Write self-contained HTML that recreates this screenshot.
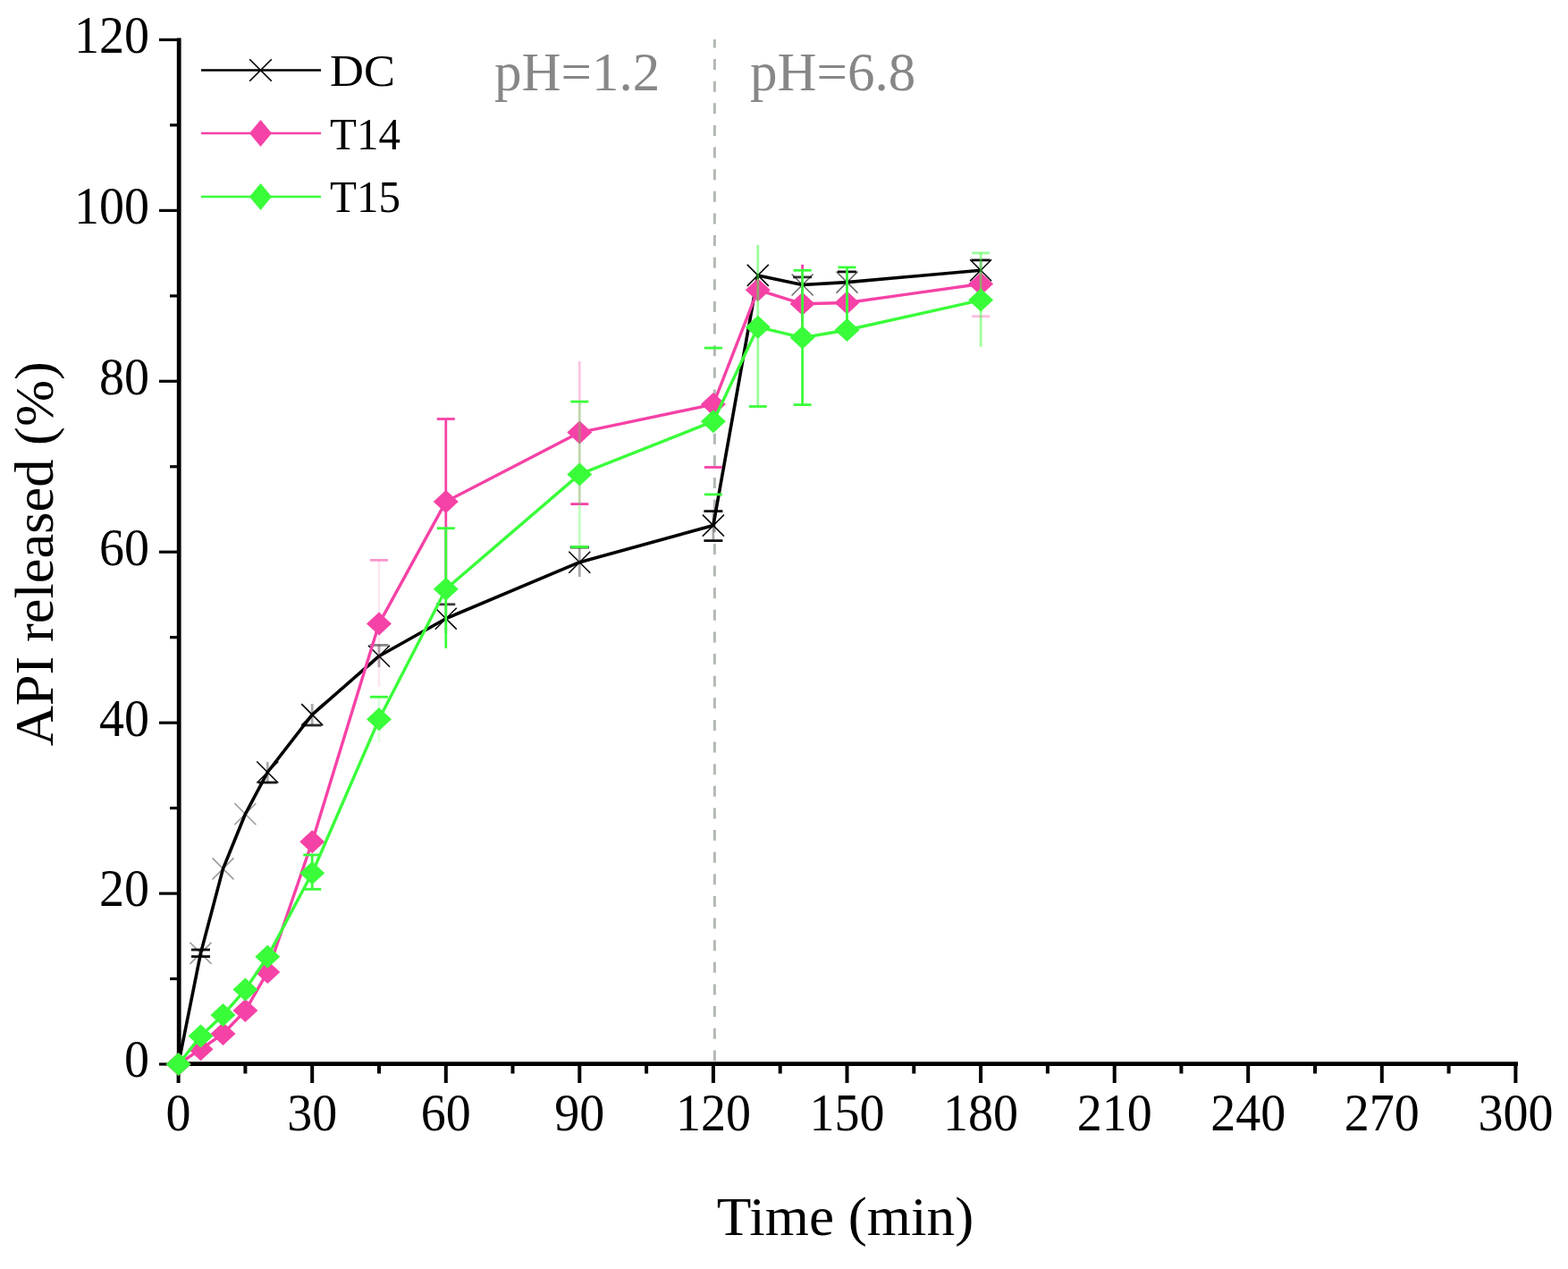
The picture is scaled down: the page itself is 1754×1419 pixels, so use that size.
<!DOCTYPE html><html><head><meta charset="utf-8"><title>API release</title>
<style>html,body{margin:0;padding:0;background:#fff;}svg{display:block;}</style></head><body>
<svg width="1754" height="1419" viewBox="0 0 1754 1419">
<rect width="1754" height="1419" fill="#fff"/>
<g stroke="#000" fill="none">
<line x1="200.2" y1="42.5" x2="200.2" y2="1192" stroke-width="4.8"/>
<line x1="198" y1="1189.7" x2="1698" y2="1189.7" stroke-width="4.8"/>
<line x1="178" y1="1190.0" x2="200" y2="1190.0" stroke-width="3.2"/>
<line x1="178" y1="999.1" x2="200" y2="999.1" stroke-width="3.2"/>
<line x1="178" y1="808.2" x2="200" y2="808.2" stroke-width="3.2"/>
<line x1="178" y1="617.2" x2="200" y2="617.2" stroke-width="3.2"/>
<line x1="178" y1="426.3" x2="200" y2="426.3" stroke-width="3.2"/>
<line x1="178" y1="235.4" x2="200" y2="235.4" stroke-width="3.2"/>
<line x1="178" y1="44.5" x2="200" y2="44.5" stroke-width="3.2"/>
<line x1="190" y1="1094.5" x2="200" y2="1094.5" stroke-width="3.2"/>
<line x1="190" y1="903.6" x2="200" y2="903.6" stroke-width="3.2"/>
<line x1="190" y1="712.7" x2="200" y2="712.7" stroke-width="3.2"/>
<line x1="190" y1="521.8" x2="200" y2="521.8" stroke-width="3.2"/>
<line x1="190" y1="330.9" x2="200" y2="330.9" stroke-width="3.2"/>
<line x1="190" y1="139.9" x2="200" y2="139.9" stroke-width="3.2"/>
<line x1="199.6" y1="1190" x2="199.6" y2="1211" stroke-width="4"/>
<line x1="349.2" y1="1190" x2="349.2" y2="1211" stroke-width="4"/>
<line x1="498.8" y1="1190" x2="498.8" y2="1211" stroke-width="4"/>
<line x1="648.3" y1="1190" x2="648.3" y2="1211" stroke-width="4"/>
<line x1="797.9" y1="1190" x2="797.9" y2="1211" stroke-width="4"/>
<line x1="947.5" y1="1190" x2="947.5" y2="1211" stroke-width="4"/>
<line x1="1097.1" y1="1190" x2="1097.1" y2="1211" stroke-width="4"/>
<line x1="1246.7" y1="1190" x2="1246.7" y2="1211" stroke-width="4"/>
<line x1="1396.2" y1="1190" x2="1396.2" y2="1211" stroke-width="4"/>
<line x1="1545.8" y1="1190" x2="1545.8" y2="1211" stroke-width="4"/>
<line x1="1695.4" y1="1190" x2="1695.4" y2="1211" stroke-width="4"/>
<line x1="274.4" y1="1190" x2="274.4" y2="1200.5" stroke-width="4"/>
<line x1="424.0" y1="1190" x2="424.0" y2="1200.5" stroke-width="4"/>
<line x1="573.5" y1="1190" x2="573.5" y2="1200.5" stroke-width="4"/>
<line x1="723.1" y1="1190" x2="723.1" y2="1200.5" stroke-width="4"/>
<line x1="872.7" y1="1190" x2="872.7" y2="1200.5" stroke-width="4"/>
<line x1="1022.3" y1="1190" x2="1022.3" y2="1200.5" stroke-width="4"/>
<line x1="1171.9" y1="1190" x2="1171.9" y2="1200.5" stroke-width="4"/>
<line x1="1321.4" y1="1190" x2="1321.4" y2="1200.5" stroke-width="4"/>
<line x1="1471.0" y1="1190" x2="1471.0" y2="1200.5" stroke-width="4"/>
<line x1="1620.6" y1="1190" x2="1620.6" y2="1200.5" stroke-width="4"/>
</g>
<line x1="799.4" y1="44" x2="799.4" y2="1187" stroke="#b2b9b2" stroke-width="3" stroke-dasharray="12 12.63" stroke-dashoffset="2.6"/>
<line x1="224.5" y1="1062.0" x2="224.5" y2="1069.6" stroke="#111" stroke-width="2.8" opacity="0.35"/><line x1="214.0" y1="1062.0" x2="235.0" y2="1062.0" stroke="#111" stroke-width="2.8" opacity="1"/><line x1="214.0" y1="1069.6" x2="235.0" y2="1069.6" stroke="#111" stroke-width="2.8" opacity="1"/>
<line x1="299.3" y1="852.0" x2="299.3" y2="875.0" stroke="#111" stroke-width="2.8" opacity="0.35"/><line x1="288.8" y1="875.0" x2="309.8" y2="875.0" stroke="#111" stroke-width="2.8" opacity="1"/>
<line x1="349.2" y1="787.0" x2="349.2" y2="811.0" stroke="#111" stroke-width="2.8" opacity="0.35"/><line x1="338.7" y1="811.0" x2="359.7" y2="811.0" stroke="#111" stroke-width="2.8" opacity="0.9"/>
<line x1="424.0" y1="721.4" x2="424.0" y2="746.0" stroke="#111" stroke-width="2.8" opacity="0.35"/><line x1="413.5" y1="721.4" x2="434.5" y2="721.4" stroke="#111" stroke-width="2.8" opacity="0.5"/>
<line x1="498.8" y1="675.8" x2="498.8" y2="708.0" stroke="#111" stroke-width="2.8" opacity="0.35"/><line x1="488.3" y1="675.8" x2="509.3" y2="675.8" stroke="#111" stroke-width="2.8" opacity="0.8"/>
<line x1="648.3" y1="612.0" x2="648.3" y2="645.0" stroke="#111" stroke-width="2.8" opacity="0.35"/><line x1="637.8" y1="612.0" x2="658.8" y2="612.0" stroke="#111" stroke-width="2.8" opacity="1"/>
<line x1="797.9" y1="571.6" x2="797.9" y2="604.6" stroke="#111" stroke-width="2.8" opacity="0.35"/><line x1="787.4" y1="571.6" x2="808.4" y2="571.6" stroke="#111" stroke-width="2.8" opacity="1"/><line x1="787.4" y1="604.6" x2="808.4" y2="604.6" stroke="#111" stroke-width="2.8" opacity="1"/>
<line x1="897.6" y1="309.9" x2="897.6" y2="327.7" stroke="#111" stroke-width="2.8" opacity="0.35"/><line x1="887.1" y1="309.9" x2="908.1" y2="309.9" stroke="#111" stroke-width="2.8" opacity="0.85"/>
<line x1="947.5" y1="303.9" x2="947.5" y2="327.9" stroke="#111" stroke-width="2.8" opacity="0.35"/><line x1="937.0" y1="303.9" x2="958.0" y2="303.9" stroke="#111" stroke-width="2.8" opacity="1"/>
<line x1="1097.1" y1="290.9" x2="1097.1" y2="312.9" stroke="#111" stroke-width="2.8" opacity="0.35"/><line x1="1086.6" y1="290.9" x2="1107.6" y2="290.9" stroke="#111" stroke-width="2.8" opacity="1"/>
<polyline points="199.6,1190.0 224.5,1065.9 249.5,971.4 274.4,910.3 299.3,863.5 349.2,799.1 424.0,733.7 498.8,691.7 648.3,628.7 797.9,587.6 847.8,307.9 897.6,318.5 947.5,315.6 1097.1,302.2" fill="none" stroke="#000" stroke-width="3.6" stroke-linejoin="round"/>
<path d="M212.5,1053.9L236.5,1077.9M212.5,1077.9L236.5,1053.9" stroke="#000" stroke-width="1.5" fill="none" opacity="0.4"/>
<path d="M237.5,959.4L261.5,983.4M237.5,983.4L261.5,959.4" stroke="#000" stroke-width="1.5" fill="none" opacity="0.4"/>
<path d="M262.4,898.3L286.4,922.3M262.4,922.3L286.4,898.3" stroke="#000" stroke-width="1.5" fill="none" opacity="0.4"/>
<path d="M287.3,851.5L311.3,875.5M287.3,875.5L311.3,851.5" stroke="#000" stroke-width="1.5" fill="none" opacity="1.0"/>
<path d="M337.2,787.1L361.2,811.1M337.2,811.1L361.2,787.1" stroke="#000" stroke-width="1.5" fill="none" opacity="1.0"/>
<path d="M412.0,721.7L436.0,745.7M412.0,745.7L436.0,721.7" stroke="#000" stroke-width="1.5" fill="none" opacity="1.0"/>
<path d="M486.8,679.7L510.8,703.7M486.8,703.7L510.8,679.7" stroke="#000" stroke-width="1.5" fill="none" opacity="1.0"/>
<path d="M636.3,616.7L660.3,640.7M636.3,640.7L660.3,616.7" stroke="#000" stroke-width="1.5" fill="none" opacity="1.0"/>
<path d="M785.9,575.6L809.9,599.6M785.9,599.6L809.9,575.6" stroke="#000" stroke-width="1.5" fill="none" opacity="1.0"/>
<path d="M835.8,295.9L859.8,319.9M835.8,319.9L859.8,295.9" stroke="#000" stroke-width="1.5" fill="none" opacity="1.0"/>
<path d="M885.6,306.5L909.6,330.5M885.6,330.5L909.6,306.5" stroke="#000" stroke-width="1.5" fill="none" opacity="0.6"/>
<path d="M935.5,303.6L959.5,327.6M935.5,327.6L959.5,303.6" stroke="#000" stroke-width="1.5" fill="none" opacity="0.6"/>
<path d="M1085.1,290.2L1109.1,314.2M1085.1,314.2L1109.1,290.2" stroke="#000" stroke-width="1.5" fill="none" opacity="1.0"/>
<line x1="424.0" y1="626.4" x2="424.0" y2="768.0" stroke="#F542A6" stroke-width="2.8" opacity="0.12"/><line x1="414.0" y1="626.4" x2="434.0" y2="626.4" stroke="#F542A6" stroke-width="2.8" opacity="0.55"/>
<line x1="498.8" y1="468.5" x2="498.8" y2="654.0" stroke="#F542A6" stroke-width="2.8" opacity="1"/><line x1="488.8" y1="468.5" x2="508.8" y2="468.5" stroke="#F542A6" stroke-width="2.8" opacity="1"/>
<line x1="648.3" y1="404.0" x2="648.3" y2="563.6" stroke="#F542A6" stroke-width="2.8" opacity="0.3"/><line x1="638.3" y1="563.6" x2="658.3" y2="563.6" stroke="#F542A6" stroke-width="2.8" opacity="1"/>
<line x1="787.9" y1="522.5" x2="807.9" y2="522.5" stroke="#F542A6" stroke-width="2.8" opacity="1"/>
<line x1="897.6" y1="295.9" x2="897.6" y2="383.7" stroke="#F542A6" stroke-width="2.8" opacity="1"/>
<line x1="1087.1" y1="353.8" x2="1107.1" y2="353.8" stroke="#F542A6" stroke-width="2.8" opacity="0.35"/>
<polyline points="199.6,1190.0 224.5,1173.2 249.5,1156.0 274.4,1130.1 299.3,1086.9 349.2,941.3 424.0,697.4 498.8,560.9 648.3,483.6 797.9,452.1 847.8,324.2 897.6,339.8 947.5,338.5 1097.1,317.5" fill="none" stroke="#F542A6" stroke-width="3.4" stroke-linejoin="round"/>
<polygon points="199.6,1177.0 213.6,1190.0 199.6,1203.0 185.6,1190.0" fill="#F542A6"/>
<polygon points="224.5,1160.2 238.5,1173.2 224.5,1186.2 210.5,1173.2" fill="#F542A6"/>
<polygon points="249.5,1143.0 263.5,1156.0 249.5,1169.0 235.5,1156.0" fill="#F542A6"/>
<polygon points="274.4,1117.1 288.4,1130.1 274.4,1143.1 260.4,1130.1" fill="#F542A6"/>
<polygon points="299.3,1073.9 313.3,1086.9 299.3,1099.9 285.3,1086.9" fill="#F542A6"/>
<polygon points="349.2,928.3 363.2,941.3 349.2,954.3 335.2,941.3" fill="#F542A6"/>
<polygon points="424.0,684.4 438.0,697.4 424.0,710.4 410.0,697.4" fill="#F542A6"/>
<polygon points="498.8,547.9 512.8,560.9 498.8,573.9 484.8,560.9" fill="#F542A6"/>
<polygon points="648.3,470.6 662.3,483.6 648.3,496.6 634.3,483.6" fill="#F542A6"/>
<polygon points="797.9,439.1 811.9,452.1 797.9,465.1 783.9,452.1" fill="#F542A6"/>
<polygon points="847.8,311.2 861.8,324.2 847.8,337.2 833.8,324.2" fill="#F542A6"/>
<polygon points="897.6,326.8 911.6,339.8 897.6,352.8 883.6,339.8" fill="#F542A6"/>
<polygon points="947.5,325.5 961.5,338.5 947.5,351.5 933.5,338.5" fill="#F542A6"/>
<polygon points="1097.1,304.5 1111.1,317.5 1097.1,330.5 1083.1,317.5" fill="#F542A6"/>
<line x1="349.2" y1="956.0" x2="349.2" y2="994.3" stroke="#3AFD3A" stroke-width="2.8" opacity="1"/><line x1="339.2" y1="956.0" x2="359.2" y2="956.0" stroke="#3AFD3A" stroke-width="2.8" opacity="1"/><line x1="339.2" y1="994.3" x2="359.2" y2="994.3" stroke="#3AFD3A" stroke-width="2.8" opacity="1"/>
<line x1="424.0" y1="779.3" x2="424.0" y2="830.0" stroke="#3AFD3A" stroke-width="2.8" opacity="0.15"/><line x1="414.0" y1="779.3" x2="434.0" y2="779.3" stroke="#3AFD3A" stroke-width="2.8" opacity="1"/>
<line x1="498.8" y1="590.7" x2="498.8" y2="725.0" stroke="#3AFD3A" stroke-width="2.8" opacity="1"/><line x1="488.8" y1="590.7" x2="508.8" y2="590.7" stroke="#3AFD3A" stroke-width="2.8" opacity="1"/>
<line x1="648.3" y1="449.1" x2="648.3" y2="611.5" stroke="#3AFD3A" stroke-width="2.8" opacity="0.3"/><line x1="638.3" y1="449.1" x2="658.3" y2="449.1" stroke="#3AFD3A" stroke-width="2.8" opacity="1"/><line x1="638.3" y1="611.5" x2="658.3" y2="611.5" stroke="#3AFD3A" stroke-width="2.8" opacity="1"/>
<line x1="787.9" y1="389.1" x2="807.9" y2="389.1" stroke="#3AFD3A" stroke-width="2.8" opacity="1"/><line x1="787.9" y1="552.9" x2="807.9" y2="552.9" stroke="#3AFD3A" stroke-width="2.8" opacity="1"/>
<line x1="847.8" y1="273.9" x2="847.8" y2="454.5" stroke="#3AFD3A" stroke-width="2.8" opacity="0.5"/><line x1="837.8" y1="454.5" x2="857.8" y2="454.5" stroke="#3AFD3A" stroke-width="2.8" opacity="1"/>
<line x1="897.6" y1="302.3" x2="897.6" y2="452.6" stroke="#3AFD3A" stroke-width="2.8" opacity="1"/><line x1="887.6" y1="302.3" x2="907.6" y2="302.3" stroke="#3AFD3A" stroke-width="2.8" opacity="1"/><line x1="887.6" y1="452.6" x2="907.6" y2="452.6" stroke="#3AFD3A" stroke-width="2.8" opacity="1"/>
<line x1="947.5" y1="298.9" x2="947.5" y2="368.7" stroke="#3AFD3A" stroke-width="2.8" opacity="1"/><line x1="937.5" y1="298.9" x2="957.5" y2="298.9" stroke="#3AFD3A" stroke-width="2.8" opacity="1"/>
<line x1="1097.1" y1="282.9" x2="1097.1" y2="387.7" stroke="#3AFD3A" stroke-width="2.8" opacity="0.5"/><line x1="1087.1" y1="282.9" x2="1107.1" y2="282.9" stroke="#3AFD3A" stroke-width="2.8" opacity="0.5"/>
<polyline points="199.6,1190.0 224.5,1158.5 249.5,1135.0 274.4,1106.6 299.3,1069.7 349.2,976.2 424.0,804.3 498.8,658.7 648.3,530.4 797.9,471.2 847.8,365.7 897.6,377.6 947.5,369.0 1097.1,335.6" fill="none" stroke="#3AFD3A" stroke-width="3.4" stroke-linejoin="round"/>
<polygon points="199.6,1177.0 213.6,1190.0 199.6,1203.0 185.6,1190.0" fill="#3AFD3A"/>
<polygon points="224.5,1145.5 238.5,1158.5 224.5,1171.5 210.5,1158.5" fill="#3AFD3A"/>
<polygon points="249.5,1122.0 263.5,1135.0 249.5,1148.0 235.5,1135.0" fill="#3AFD3A"/>
<polygon points="274.4,1093.6 288.4,1106.6 274.4,1119.6 260.4,1106.6" fill="#3AFD3A"/>
<polygon points="299.3,1056.7 313.3,1069.7 299.3,1082.7 285.3,1069.7" fill="#3AFD3A"/>
<polygon points="349.2,963.2 363.2,976.2 349.2,989.2 335.2,976.2" fill="#3AFD3A"/>
<polygon points="424.0,791.3 438.0,804.3 424.0,817.3 410.0,804.3" fill="#3AFD3A"/>
<polygon points="498.8,645.7 512.8,658.7 498.8,671.7 484.8,658.7" fill="#3AFD3A"/>
<polygon points="648.3,517.4 662.3,530.4 648.3,543.4 634.3,530.4" fill="#3AFD3A"/>
<polygon points="797.9,458.2 811.9,471.2 797.9,484.2 783.9,471.2" fill="#3AFD3A"/>
<polygon points="847.8,352.7 861.8,365.7 847.8,378.7 833.8,365.7" fill="#3AFD3A"/>
<polygon points="897.6,364.6 911.6,377.6 897.6,390.6 883.6,377.6" fill="#3AFD3A"/>
<polygon points="947.5,356.0 961.5,369.0 947.5,382.0 933.5,369.0" fill="#3AFD3A"/>
<polygon points="1097.1,322.6 1111.1,335.6 1097.1,348.6 1083.1,335.6" fill="#3AFD3A"/>
<g font-family="'Liberation Serif', 'DejaVu Serif', serif" font-size="59" fill="#000">
<text transform="translate(167,1204.3) scale(0.95,1)" text-anchor="end">0</text>
<text transform="translate(167,1013.4) scale(0.95,1)" text-anchor="end">20</text>
<text transform="translate(167,822.5) scale(0.95,1)" text-anchor="end">40</text>
<text transform="translate(167,631.5) scale(0.95,1)" text-anchor="end">60</text>
<text transform="translate(167,440.6) scale(0.95,1)" text-anchor="end">80</text>
<text transform="translate(167,249.7) scale(0.95,1)" text-anchor="end">100</text>
<text transform="translate(167,58.8) scale(0.95,1)" text-anchor="end">120</text>
<text transform="translate(199.6,1264.3) scale(0.95,1)" text-anchor="middle">0</text>
<text transform="translate(349.2,1264.3) scale(0.95,1)" text-anchor="middle">30</text>
<text transform="translate(498.8,1264.3) scale(0.95,1)" text-anchor="middle">60</text>
<text transform="translate(648.3,1264.3) scale(0.95,1)" text-anchor="middle">90</text>
<text transform="translate(797.9,1264.3) scale(0.95,1)" text-anchor="middle">120</text>
<text transform="translate(947.5,1264.3) scale(0.95,1)" text-anchor="middle">150</text>
<text transform="translate(1097.1,1264.3) scale(0.95,1)" text-anchor="middle">180</text>
<text transform="translate(1246.7,1264.3) scale(0.95,1)" text-anchor="middle">210</text>
<text transform="translate(1396.2,1264.3) scale(0.95,1)" text-anchor="middle">240</text>
<text transform="translate(1545.8,1264.3) scale(0.95,1)" text-anchor="middle">270</text>
<text transform="translate(1695.4,1264.3) scale(0.95,1)" text-anchor="middle">300</text>
</g>
<text transform="translate(945.5,1380.5) scale(1.037,1)" text-anchor="middle" font-family="'Liberation Serif', 'DejaVu Serif', serif" font-size="61" fill="#000">Time (min)</text>
<text transform="translate(59,619.3) rotate(-90) scale(1.024,1)" text-anchor="middle" font-family="'Liberation Serif', 'DejaVu Serif', serif" font-size="61" fill="#000">API released (%)</text>
<text x="553" y="101.3" font-family="'Liberation Serif', 'DejaVu Serif', serif" font-size="61" fill="#878787">pH=1.2</text>
<text x="839" y="101.3" font-family="'Liberation Serif', 'DejaVu Serif', serif" font-size="61" fill="#878787">pH=6.8</text>
<line x1="225" y1="78.5" x2="359" y2="78.5" stroke="#000" stroke-width="2.4"/>
<path d="M279.2,66.2L303.8,90.8M279.2,90.8L303.8,66.2" stroke="#000" stroke-width="1.6" fill="none" opacity="1.0"/>
<line x1="225" y1="149" x2="359" y2="149" stroke="#F542A6" stroke-width="2.4"/>
<polygon points="291.5,134.0 304.0,149.0 291.5,164.0 279.0,149.0" fill="#F542A6"/>
<line x1="225" y1="220" x2="359" y2="220" stroke="#3AFD3A" stroke-width="2.4"/>
<polygon points="291.5,205.0 304.0,220.0 291.5,235.0 279.0,220.0" fill="#3AFD3A"/>
<g font-family="'Liberation Serif', 'DejaVu Serif', serif" font-size="50" fill="#000">
<text transform="translate(369,95.6) scale(1.05,1)">DC</text>
<text transform="translate(369,167) scale(0.98,1)">T14</text>
<text transform="translate(369,237.4) scale(0.98,1)">T15</text>
</g>
</svg></body></html>
